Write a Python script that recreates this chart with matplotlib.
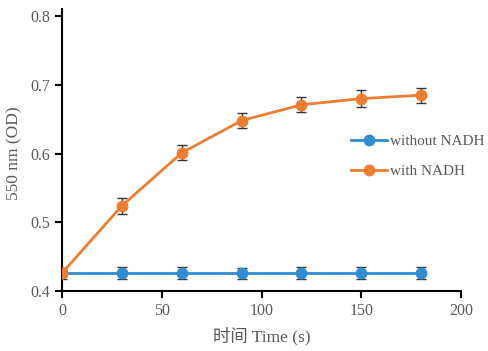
import matplotlib
matplotlib.use("Agg")
import matplotlib.pyplot as plt
from matplotlib.lines import Line2D

plt.rcParams['font.family'] = ['Liberation Serif', 'Noto Sans CJK SC']

time_s = [0, 30, 60, 90, 120, 150, 180]
without_nadh = [0.426, 0.426, 0.426, 0.426, 0.426, 0.426, 0.426]
without_err = [0.008, 0.009, 0.009, 0.008, 0.009, 0.009, 0.009]
with_nadh = [0.426, 0.524, 0.601, 0.648, 0.671, 0.680, 0.685]
with_err = [0.004, 0.012, 0.011, 0.011, 0.011, 0.012, 0.011]
labels = ['without NADH', 'with NADH']

blue = '#2F8DD0'
orange = '#ED7D31'
grey = '#595959'

fig = plt.figure(figsize=(4.88, 3.51), dpi=100)
ax = fig.add_axes([0.127, 0.171, 0.818, 0.783])

ax.errorbar(time_s, without_nadh, yerr=without_err, color=blue, lw=2, marker='o',
            ms=7.5, ecolor='#333333', elinewidth=1, capsize=3.5, capthick=1,
            zorder=3)
ax.errorbar(time_s, with_nadh, yerr=with_err, color=orange, lw=2, marker='o',
            ms=7.5, ecolor='#333333', elinewidth=1, capsize=3.5, capthick=1,
            zorder=4)

ax.set_xlim(0, 200)
ax.set_ylim(0.4, 0.8)
ax.set_xticks([0, 50, 100, 150, 200])
ax.set_yticks([0.4, 0.5, 0.6, 0.7, 0.8])
ax.set_yticklabels(['0.4', '0.5', '0.6', '0.7', '0.8'])

for s in ['top', 'right']:
    ax.spines[s].set_visible(False)
for s in ['left', 'bottom']:
    ax.spines[s].set_color('black')
    ax.spines[s].set_linewidth(1.5)
ax.tick_params(direction='out', length=5, width=1.5, colors='black',
               labelcolor=grey, labelsize=11.5)
ax.spines['left'].set_bounds(0.4, 0.81)

ax.set_xlabel('时间 Time (s)', fontsize=12.5, color=grey, labelpad=6)
ax.set_ylabel('550 nm (OD)', fontsize=12.5, color=grey, labelpad=6)

handles = [Line2D([], [], color=blue, lw=2, marker='o', ms=7.5),
           Line2D([], [], color=orange, lw=2, marker='o', ms=7.5)]
leg = ax.legend(handles, labels, loc='center left', bbox_to_anchor=(0.724, 0.49),
                frameon=False, fontsize=11, handlelength=2.35, handletextpad=0.2,
                labelspacing=1.1, borderpad=0, borderaxespad=0, labelcolor=grey)

fig.savefig('out.png', dpi=100, facecolor='white')
